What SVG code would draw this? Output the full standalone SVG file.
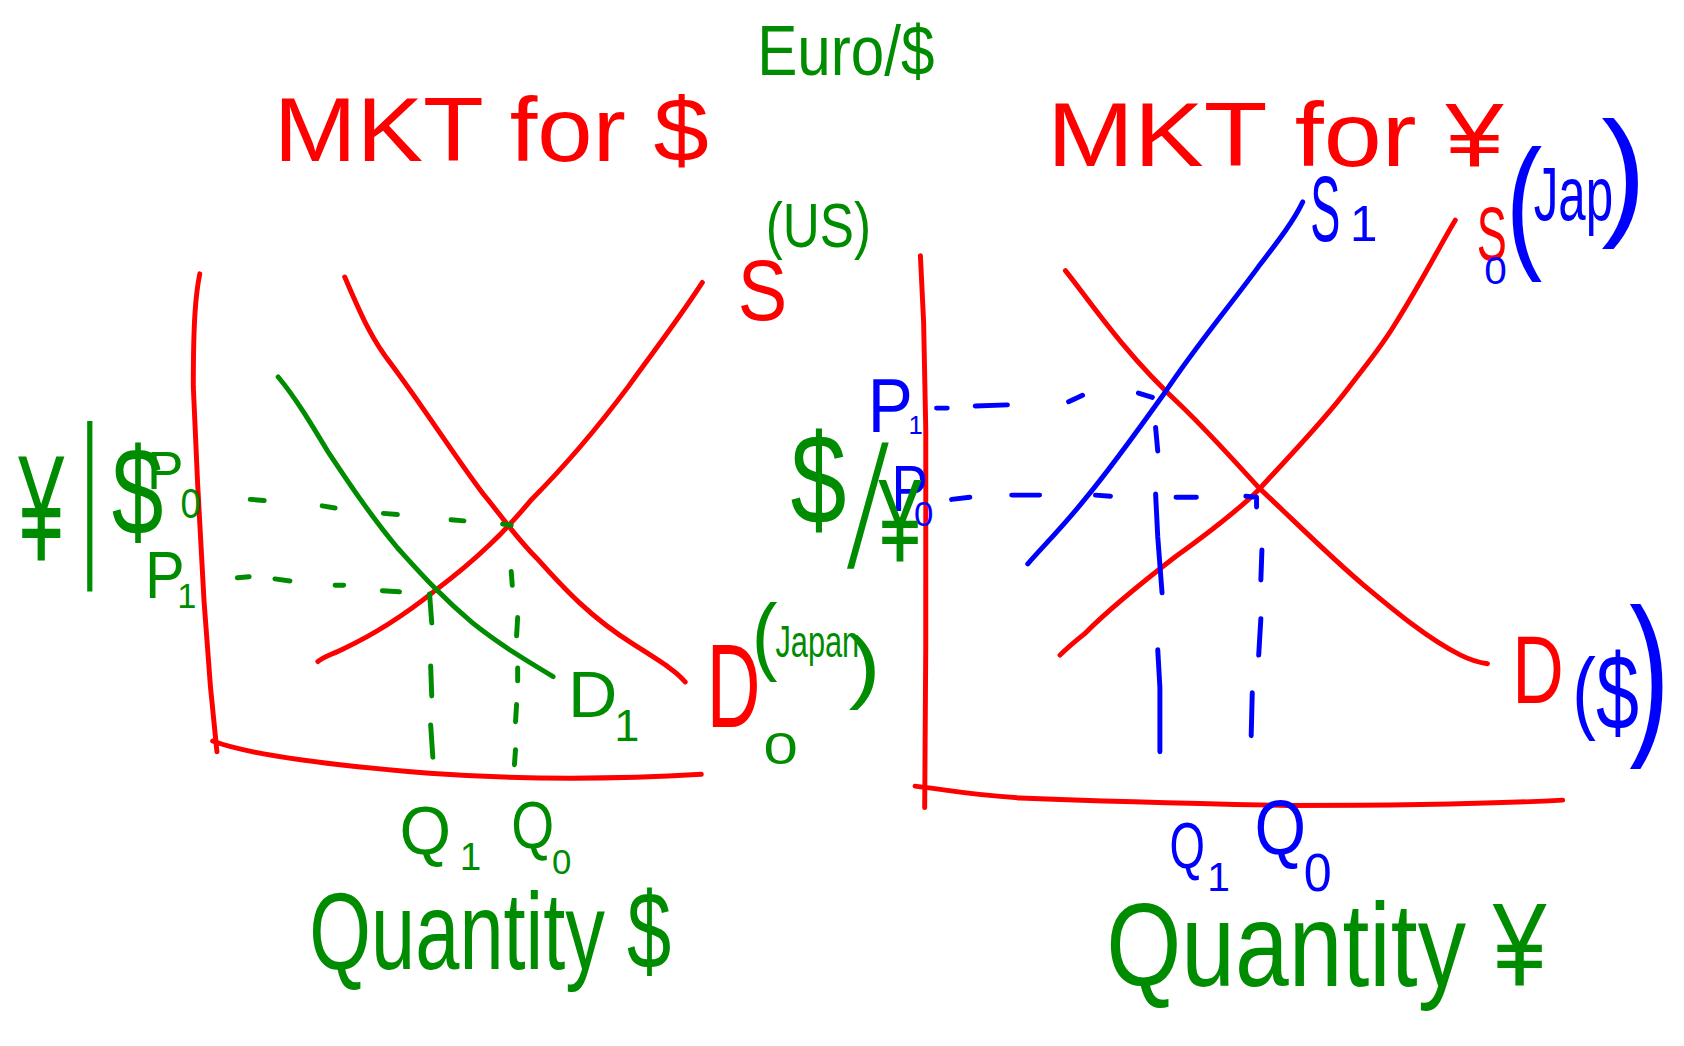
<svg xmlns="http://www.w3.org/2000/svg" width="1684" height="1046" viewBox="0 0 1684 1046">
<style>
.r{stroke:#ff0000}.g{stroke:#008c00}.b{stroke:#0000ff}
.ln{fill:none;stroke-width:4.6;stroke-linecap:round;stroke-linejoin:round}
text{font-family:"Liberation Sans","DejaVu Sans",sans-serif}
.tr{fill:#ff0000}.tg{fill:#008c00}.tb{fill:#0000ff}
</style>
<rect width="1684" height="1046" fill="#ffffff"/>
<g transform="scale(1.07398)">
<g id="left-chart">
  <path class="ln r" d="M186,255 C182,275 180,300 180,360 L184,450 L190,560 L196,640 L202,700"/>
  <path class="ln r" d="M198,690 C230,702 300,712 400,720 C470,725 550,727 653,721"/>
  <path id="left-D0" class="ln r" d="M321,258 C335,290 345,315 365,340 C395,380 420,420 450,460 C465,478 480,500 500,520 C525,548 550,575 590,600 C615,616 630,625 638,635"/>
  <path id="left-S" class="ln r" d="M654,263 C630,300 610,325 585,360 C555,400 520,440 495,465 C470,495 445,520 405,550 C380,570 350,590 320,604 C310,609 300,612 296,616"/>
  <path id="left-D1" class="ln g" d="M259,351 C275,370 290,395 305,420 C325,450 345,480 370,510 C390,532 410,555 440,580 C465,600 490,615 515,630"/>
  <g id="left-dashes" class="ln g">
    <path d="M233,465 L246,466 M300,471 L312,473 M357,478 L370,479 M420,484 L432,485 M468,488 L476,489"/>
    <path d="M221,538 L232,537 M256,539 L270,541 M312,545 L320,545 M356,550 L372,551"/>
    <path d="M400,553 L402,580 M401,620 L402,648 M401,675 L403,705"/>
    <path d="M476,532 L477,545 M482,575 L481,592 M482,622 L482,634 M481,656 L480,672 M480,698 L479,712"/>
  </g>
  <text class="tg" transform="translate(17,521) scale(0.55,1)" font-size="140">¥</text>
  <text class="tg" transform="translate(76,515) scale(0.35,1)" font-size="170">|</text>
  <text class="tg" x="104" y="498" font-size="115" textLength="48" lengthAdjust="spacingAndGlyphs">$</text>
  <text class="tg" x="137" y="455" font-size="50" textLength="34" lengthAdjust="spacingAndGlyphs">P</text>
  <text class="tg" x="168" y="482" font-size="40" textLength="19" lengthAdjust="spacingAndGlyphs">0</text>
  <text class="tg" x="135" y="557" font-size="62" textLength="37" lengthAdjust="spacingAndGlyphs">P</text>
  <text class="tg" x="165" y="566" font-size="32">1</text>
  <text class="tr" x="687" y="298" font-size="80" textLength="46" lengthAdjust="spacingAndGlyphs">S</text>
  <text class="tg" x="713" y="230" font-size="58" textLength="98" lengthAdjust="spacingAndGlyphs">(US)</text>
  <text class="tr" x="658" y="677" font-size="110" textLength="50" lengthAdjust="spacingAndGlyphs">D</text>
  <text class="tg" x="711" y="711" font-size="42" textLength="32" lengthAdjust="spacingAndGlyphs">0</text>
  <text class="tg" x="700" y="618" font-size="80" textLength="24" lengthAdjust="spacingAndGlyphs">(</text>
  <text class="tg" x="722" y="612" font-size="42" textLength="78" lengthAdjust="spacingAndGlyphs">Japan</text>
  <text class="tg" x="790" y="645" font-size="75" textLength="30" lengthAdjust="spacingAndGlyphs">)</text>
  <text class="tg" x="529" y="668" font-size="60" textLength="46" lengthAdjust="spacingAndGlyphs">D</text>
  <text class="tg" x="572" y="690" font-size="42">1</text>
  <text class="tg" x="372" y="795" font-size="64" textLength="48" lengthAdjust="spacingAndGlyphs">Q</text>
  <text class="tg" x="428" y="810" font-size="36">1</text>
  <text class="tg" x="476" y="790" font-size="62" textLength="40" lengthAdjust="spacingAndGlyphs">Q</text>
  <text class="tg" x="514" y="814" font-size="32" textLength="18" lengthAdjust="spacingAndGlyphs">0</text>
  <text class="tg" x="288" y="902" font-size="102" textLength="337" lengthAdjust="spacingAndGlyphs">Quantity $</text>
  <text class="tr" x="255" y="150" font-size="84" textLength="405" lengthAdjust="spacingAndGlyphs">MKT for $</text>
  <text class="tg" x="705" y="70" font-size="66" textLength="165" lengthAdjust="spacingAndGlyphs">Euro/$</text>
</g>
<g id="right-chart">
  <path class="ln r" d="M857,238 L860,300 L862,400 L862,600 L861,752"/>
  <path class="ln r" d="M852,732 C880,735 900,740 950,743 C1000,745 1100,748 1200,750 C1300,750 1400,748 1455,745"/>
  <path id="right-D" class="ln r" d="M992,252 C1005,268 1020,290 1045,320 C1060,338 1075,355 1100,378 C1125,402 1150,430 1173,455 C1200,480 1240,520 1270,545 C1300,570 1330,595 1360,610 C1370,615 1378,617 1385,618"/>
  <path id="right-S0" class="ln r" d="M1355,205 C1340,230 1325,260 1300,300 C1285,325 1270,342 1255,362 C1230,395 1200,425 1173,455 C1150,478 1120,500 1095,518 C1060,545 1030,570 1010,590 C1000,598 993,604 987,610"/>
  <path id="right-S1" class="ln b" d="M1213,188 C1205,205 1192,222 1172,248 C1145,285 1115,320 1085,365 C1060,400 1035,435 1010,465 C990,490 970,510 957,525"/>
  <g id="right-dashes" class="ln b">
    <path d="M872,380 L882,380 M908,378 L938,377 M995,374 L1008,368 M1060,366 L1073,370"/>
    <path d="M886,465 L903,463 M942,461 L968,461 M1020,461 L1034,462 M1095,463 L1114,463 M1160,462 L1170,463 L1170,472"/>
    <path d="M1076,398 L1078,420 M1076,460 L1078,500 L1082,552 M1078,605 L1080,640 L1080,700"/>
    <path d="M1175,512 L1174,540 M1174,576 L1172,610 M1166,645 L1165,685"/>
  </g>
  <text class="tb" x="808" y="402" font-size="70" textLength="42" lengthAdjust="spacingAndGlyphs">P</text>
  <text class="tb" x="846" y="404" font-size="24">1</text>
  <text class="tb" x="830" y="476" font-size="60" textLength="34" lengthAdjust="spacingAndGlyphs">P</text>
  <text class="tb" x="851" y="490" font-size="32" textLength="18" lengthAdjust="spacingAndGlyphs">0</text>
  <text class="tg" x="736" y="488" font-size="120" textLength="52" lengthAdjust="spacingAndGlyphs">$</text>
  <text class="tg" transform="translate(789,528) skewX(-8) scale(0.5,1)" font-size="160">/</text>
  <text class="tg" x="818" y="523" font-size="110" textLength="40" lengthAdjust="spacingAndGlyphs">¥</text>
  <text class="tb" x="1220" y="224" font-size="86" textLength="28" lengthAdjust="spacingAndGlyphs">S</text>
  <text class="tb" x="1257" y="224" font-size="46">1</text>
  <text class="tr" x="1375" y="242" font-size="70" textLength="28" lengthAdjust="spacingAndGlyphs">S</text>
  <text class="tb" x="1382" y="264" font-size="36" textLength="21" lengthAdjust="spacingAndGlyphs">0</text>
  <text class="tb" x="1402" y="235" font-size="137" textLength="34" lengthAdjust="spacingAndGlyphs">(</text>
  <text class="tb" x="1428" y="205" font-size="70" textLength="74" lengthAdjust="spacingAndGlyphs">Jap</text>
  <text class="tb" x="1491" y="205" font-size="132" textLength="42" lengthAdjust="spacingAndGlyphs">)</text>
  <text class="tr" x="1408" y="655" font-size="90" textLength="48" lengthAdjust="spacingAndGlyphs">D</text>
  <text class="tb" x="1464" y="672" font-size="85" textLength="22" lengthAdjust="spacingAndGlyphs">(</text>
  <text class="tb" x="1486" y="680" font-size="100" textLength="40" lengthAdjust="spacingAndGlyphs">$</text>
  <text class="tb" x="1517" y="682" font-size="165" textLength="38" lengthAdjust="spacingAndGlyphs">)</text>
  <text class="tb" x="1089" y="808" font-size="60" textLength="33" lengthAdjust="spacingAndGlyphs">Q</text>
  <text class="tb" x="1124" y="830" font-size="38">1</text>
  <text class="tb" x="1168" y="795" font-size="72" textLength="48" lengthAdjust="spacingAndGlyphs">Q</text>
  <text class="tb" x="1214" y="830" font-size="50" textLength="26" lengthAdjust="spacingAndGlyphs">0</text>
  <text class="tg" x="1030" y="918" font-size="110" textLength="410" lengthAdjust="spacingAndGlyphs">Quantity ¥</text>
  <text class="tr" x="975" y="155" font-size="84" textLength="425" lengthAdjust="spacingAndGlyphs">MKT for ¥</text>
</g>
</g>
</svg>
